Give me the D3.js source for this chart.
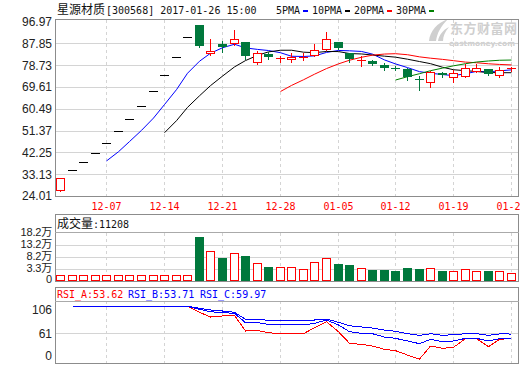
<!DOCTYPE html>
<html><head><meta charset="utf-8">
<script src="https://cdn.jsdelivr.net/npm/d3@7"></script>
<style>body{margin:0;background:#fff}svg{display:block}</style>
</head><body>
<script>
// ---------- data ----------
const dates = ["12-01","12-02","12-05","12-06","12-07","12-08","12-09","12-12","12-13","12-14",
  "12-15","12-16","12-19","12-20","12-21","12-22","12-23","12-26","12-27","12-28",
  "12-29","12-30","01-03","01-04","01-05","01-06","01-09","01-10","01-11","01-12",
  "01-13","01-16","01-17","01-18","01-19","01-20","01-23","01-24","01-25","01-26"];
const dateTicks = ["12-07","12-14","12-21","12-28","01-05","01-12","01-19","01-26"];
const open  = [26.39,34.84,38.32,42.15,46.37,51.01,56.11,61.72,67.89,74.68,82.15,90.37,95.72,83.7,87.4,87.85,88.4,80.2,83.25,81.2,81.3,81.8,82.95,85.3,88.4,84.0,80.45,80.6,78.9,77.7,77.0,72.9,71.55,75.6,73.9,74.3,76.4,77.0,74.5,77.1];
const high  = [31.67,34.84,38.32,42.15,46.37,51.01,56.11,61.72,67.89,74.68,82.15,90.37,95.72,89.65,88.8,93.4,88.4,84.6,84.1,82.5,83.7,83.7,87.55,92.6,88.4,84.0,82.5,81.0,79.5,78.2,77.65,74.3,76.4,76.0,76.7,79.1,79.1,77.2,77.8,78.1];
const low   = [26.0,34.84,38.32,42.15,46.37,51.01,56.11,61.72,67.89,74.68,82.15,90.37,86.26,83.1,84.3,87.0,81.4,79.3,81.2,80.2,80.0,80.9,82.5,85.05,85.5,80.2,78.5,78.9,76.7,76.8,72.5,68.35,69.7,73.9,71.8,73.9,75.7,74.8,73.9,76.4];
const close = [31.67,34.84,38.32,42.15,46.37,51.01,56.11,61.72,67.89,74.68,82.15,90.37,86.85,84.6,86.2,89.5,82.7,83.7,82.25,81.6,82.1,82.25,84.9,89.5,85.75,81.35,80.9,79.3,77.4,77.4,73.65,72.4,76.0,74.6,75.3,77.4,77.4,75.0,76.7,77.4];
// volume, unit: 万
const volume = [1.9,1.9,1.9,1.9,1.9,1.9,1.9,1.9,1.9,1.9,1.9,1.9,16.6,11.2,8.65,10.5,9.4,6.75,5.23,5.12,5.12,4.36,7.02,8.42,6.37,5.88,4.74,4.10,4.10,3.60,4.74,4.36,4.63,3.72,3.60,4.25,3.60,3.60,3.60,2.84];
const ma5  = [null,null,null,null,38.67,42.54,46.79,51.47,56.62,62.28,68.51,75.36,80.39,83.73,86.03,87.50,85.97,85.34,84.87,83.95,82.47,82.38,82.62,84.07,84.90,84.75,84.48,83.36,80.94,79.27,77.73,76.03,75.37,74.81,74.39,75.14,76.14,75.94,76.36,76.78];
const ma10 = [null,null,null,null,null,null,null,null,null,50.48,55.52,61.08,65.93,70.18,74.16,78.01,80.67,82.86,84.30,84.99,84.99,84.18,83.98,84.47,84.43,83.61,83.43,82.99,82.51,82.09,81.24,80.26,79.37,77.88,76.83,76.44,76.09,75.66,75.59,75.59];
const ma20 = [null,null,null,null,null,null,null,null,null,null,null,null,null,null,null,null,null,null,null,67.73,70.26,72.63,74.96,77.32,79.29,80.81,82.05,82.93,83.40,83.54,83.11,82.22,81.67,81.17,80.63,80.02,79.76,79.32,79.05,78.84];
const ma30 = [null,null,null,null,null,null,null,null,null,null,null,null,null,null,null,null,null,null,null,null,null,null,null,null,null,null,null,null,null,72.52,73.92,75.17,76.43,77.51,78.47,79.35,80.06,80.50,80.80,80.89];
const rsiA = [null,100,100,100,100,100,100,100,100,100,100,100,91.3,84.5,86.0,86.8,64.3,65.0,61.8,60.6,60.2,60.4,69.1,77.8,63.3,46.5,45.0,42.6,37.8,35.9,29.6,23.8,42.6,39.3,40.8,53.2,53.2,41.6,52.3,53.62];
const rsiB = [null,100,100,100,100,100,100,100,100,100,100,100,95.7,92.2,90.8,89.9,76.3,76.3,74.0,73.0,73.0,73.0,75.4,80.2,73.0,63.3,61.0,60.4,55.6,53.7,49.9,46.0,52.3,48.8,49.9,53.7,53.7,49.9,53.2,53.71];
const rsiC = [null,100,100,100,100,100,100,100,100,100,100,100,97.1,94.7,93.2,91.3,81.2,81.2,79.7,79.2,79.2,79.2,80.2,81.6,76.8,72.0,70.1,68.6,65.7,63.8,60.4,58.0,60.4,58.0,59.0,60.4,60.4,58.0,60.0,59.97];
const priceTicks = [24.01,33.13,42.25,51.37,60.49,69.61,78.73,87.85,96.97];
const volTickValues = [0,4.55,9.1,13.65,18.2];
const volTickLabels = ["0","3.3万","8.2万","13.2万","18.2万"];
const rsiTickValues = [0,61,106];
const rsiGridValues = [61];
const maNames = ["5PMA","10PMA","20PMA","30PMA"];
const maColors = ["#0000ff","#000000","#ff0000","#008000"];
const titleName = "星源材质", titleCode = "[300568] 2017-01-26 15:00";
const volLabel = "成交量", volValue = ":11208";

// ---------- layout ----------
const W=520,H=365, L=55, R=519;
const RED="#ff0000", GREEN="#00783c", GRID="#d4d4d4", FRAME="#8c8c8c";
const MONO="'DejaVu Sans Mono', 'Liberation Mono', monospace";
const CJK="'Noto Sans CJK SC', sans-serif";
const SANS="'Liberation Sans', Arial, 'Noto Sans CJK SC', sans-serif";

const svg=d3.select("body").append("svg").attr("width",W).attr("height",H)
  .style("font-family",SANS);

const x=d3.scaleBand().domain(d3.range(dates.length)).range([54.3,54.3+11.563*dates.length]);
const cx=i=>Math.round(x(i)+x.step()/2);
const yP=d3.scaleLinear().domain([24.01,96.97]).range([196,21.6]);
const yV=d3.scaleLinear().domain([0,18.2]).range([280.5,232.5]);
const yR=d3.scaleLinear().domain([61,100]).range([333.3,306.3]);
const yRt=d3.scaleLinear().domain([0,61,106]).range([356,333.3,309.3]);

const panels={price:[19.5,196],vol:[232.5,281],rsi:[301,364]};

// watermark
const wm=svg.append("g").attr("fill","#cfcfcf");
wm.append("path").attr("d","M429,41 C430,31 437,23 448,19 C441,26 437,33 436,41 Z");
wm.append("path").attr("d","M438,41 C439,35 443,30 449,27 C445,32 443,36 443,41 Z");
wm.append("text").attr("x",450).attr("y",33).attr("font-family",CJK).attr("font-weight","bold")
  .attr("font-size",13).attr("letter-spacing",0.5).text("东方财富网");
wm.append("text").attr("x",449).attr("y",46).attr("font-family","'DejaVu Sans', sans-serif").attr("font-weight","bold")
  .attr("font-size",7.5).attr("textLength",66).attr("lengthAdjust","spacingAndGlyphs").text("eastmoney.com");

// horizontal grid lines
const g=svg.append("g").attr("shape-rendering","crispEdges");
priceTicks.slice(1,-1).forEach(v=>{
  const yy=Math.round(yP(v))+0.5;
  g.append("line").attr("x1",L).attr("x2",R).attr("y1",yy).attr("y2",yy).attr("stroke",GRID);
});
volTickValues.slice(1,-1).forEach(v=>{
  const yy=Math.round(yV(v))+0.5;
  g.append("line").attr("x1",L).attr("x2",R).attr("y1",yy).attr("y2",yy).attr("stroke",GRID);
});
rsiGridValues.forEach(v=>{
  const yy=Math.round(yR(v))+0.5;
  g.append("line").attr("x1",L).attr("x2",R).attr("y1",yy).attr("y2",yy).attr("stroke",GRID);
});
// vertical dashed lines
dateTicks.forEach(d=>{
  const i=dates.indexOf(d), xx=cx(i)+0.5;
  Object.values(panels).forEach(([a,b])=>{
    g.append("line").attr("x1",xx).attr("x2",xx).attr("y1",a).attr("y2",b)
      .attr("stroke",GRID).attr("stroke-dasharray","3,3");
  });
});

// MA lines
const maSeries=[ma5,ma10,ma20,ma30];
maSeries.forEach((s,k)=>{
  const line=d3.line().defined(d=>d!=null).x((d,i)=>cx(i)+0.5).y(d=>yP(d));
  svg.append("path").attr("d",line(s)).attr("fill","none").attr("stroke",maColors[k]).attr("stroke-width",1);
});

// candles
const cg=svg.append("g").attr("shape-rendering","crispEdges");
dates.forEach((d,i)=>{
  const o=open[i],c=close[i],h=high[i],l=low[i];
  const col=c>o?RED:(c<o?GREEN:"#000");
  const xc=cx(i);
  const yt=Math.round(yP(Math.max(o,c))), yb=Math.round(yP(Math.min(o,c)));
  const yh=Math.round(yP(h)), yl=Math.round(yP(l));
  if(yb-yt<=1){
    cg.append("line").attr("x1",xc+0.5).attr("x2",xc+0.5).attr("y1",yh).attr("y2",yl+1).attr("stroke",col);
    cg.append("rect").attr("x",xc-4).attr("y",yt).attr("width",9).attr("height",Math.max(1,yb-yt)).attr("fill",col);
  } else if(c>o){
    cg.append("line").attr("x1",xc+0.5).attr("x2",xc+0.5).attr("y1",yh).attr("y2",yt).attr("stroke",col);
    cg.append("line").attr("x1",xc+0.5).attr("x2",xc+0.5).attr("y1",yb).attr("y2",yl+1).attr("stroke",col);
    cg.append("rect").attr("x",xc-4+0.5).attr("y",yt+0.5).attr("width",8).attr("height",yb-yt)
      .attr("fill","#fff").attr("stroke",col);
  } else {
    cg.append("line").attr("x1",xc+0.5).attr("x2",xc+0.5).attr("y1",yh).attr("y2",yl+1).attr("stroke",col);
    cg.append("rect").attr("x",xc-4).attr("y",yt).attr("width",9).attr("height",yb-yt).attr("fill",col);
  }
});

// volume bars
const vg=svg.append("g").attr("shape-rendering","crispEdges");
dates.forEach((d,i)=>{
  const up=close[i]>=open[i];
  const xc=cx(i), top=Math.round(yV(volume[i])), base=281;
  if(up){
    vg.append("rect").attr("x",xc-4+0.5).attr("y",top+0.5).attr("width",8).attr("height",base-top-1)
      .attr("fill","#fff").attr("stroke",RED);
  } else {
    vg.append("rect").attr("x",xc-4).attr("y",top).attr("width",9).attr("height",base-top).attr("fill",GREEN);
  }
});

// RSI lines (red drawn first so blue lies on top where they coincide)
[[rsiA,RED],[rsiB,"#0000ff"],[rsiC,"#0000ff"]].forEach(([s,col])=>{
  const line=d3.line().defined(d=>d!=null).x((d,i)=>cx(i)+0.5).y(d=>yR(d));
  svg.append("path").attr("d",line(s)).attr("fill","none").attr("stroke",col).attr("stroke-width",1)
    .attr("shape-rendering","crispEdges");
});

// frames
const fg=svg.append("g").attr("fill","none").attr("stroke",FRAME).attr("shape-rendering","crispEdges");
fg.append("rect").attr("x",L+0.5).attr("y",19.5).attr("width",R-L-1).attr("height",176.5);
fg.append("rect").attr("x",L+0.5).attr("y",214.5).attr("width",R-L-1).attr("height",66.5);
fg.append("line").attr("x1",L).attr("x2",R).attr("y1",232.5).attr("y2",232.5).attr("stroke","#aaa");
fg.append("rect").attr("x",L+0.5).attr("y",287.5).attr("width",R-L-1).attr("height",76);
fg.append("line").attr("x1",L).attr("x2",R).attr("y1",301.5).attr("y2",301.5).attr("stroke","#aaa");

// axis labels
const al=svg.append("g").attr("font-size",12).attr("fill","#222").attr("text-anchor","end");
priceTicks.forEach(v=>{
  al.append("text").attr("x",52).attr("y",yP(v)).attr("dy","0.36em").text(v.toFixed(2));
});
volTickValues.forEach((v,k)=>{
  al.append("text").attr("x",52).attr("y",Math.min(yV(v),279.5)).attr("dy","0.36em")
    .attr("font-size",11).attr("letter-spacing",-0.2).text(volTickLabels[k]);
});
rsiTickValues.forEach(v=>{
  al.append("text").attr("x",52).attr("y",yRt(v)).attr("dy","0.36em").text(String(v));
});
// date labels (last one runs off the right edge, as in the reference)
dateTicks.forEach(d=>{
  const i=dates.indexOf(d);
  svg.append("text").attr("x",cx(i)+0.5).attr("y",210).attr("text-anchor","middle")
    .attr("font-family",MONO).attr("font-size",10).attr("fill",RED).text(d);
});

// title
const t=svg.append("text").attr("x",57).attr("y",14).attr("fill","#111");
t.append("tspan").attr("font-family",CJK).attr("font-size",12).text(titleName);
t.append("tspan").attr("font-family",MONO).attr("font-size",10).attr("dx",1).text(titleCode);

// legend
let lx=276;
maNames.forEach((n,k)=>{
  svg.append("text").attr("x",lx).attr("y",14).attr("font-family",MONO).attr("font-size",10).attr("fill","#111").text(n);
  const rx=lx+n.length*6+3;
  svg.append("rect").attr("x",rx).attr("y",10).attr("width",5).attr("height",2).attr("fill",maColors[k]);
  lx=rx+9;
});

// volume label
const vt=svg.append("text").attr("x",57).attr("y",228).attr("fill","#111");
vt.append("tspan").attr("font-family",CJK).attr("font-size",12).text(volLabel);
vt.append("tspan").attr("font-family",MONO).attr("font-size",10).text(volValue);

// RSI label
const rl=[["RSI_A:"+rsiA[rsiA.length-1].toFixed(2),RED,57],["RSI_B:"+rsiB[rsiB.length-1].toFixed(2),"#0000ff",128],["RSI_C:"+rsiC[rsiC.length-1].toFixed(2),"#0000ff",200]];
rl.forEach(([s,col,xx])=>{
  svg.append("text").attr("x",xx).attr("y",298).attr("font-family",MONO).attr("font-size",10).attr("fill",col).text(s);
});
</script>
</body></html>
